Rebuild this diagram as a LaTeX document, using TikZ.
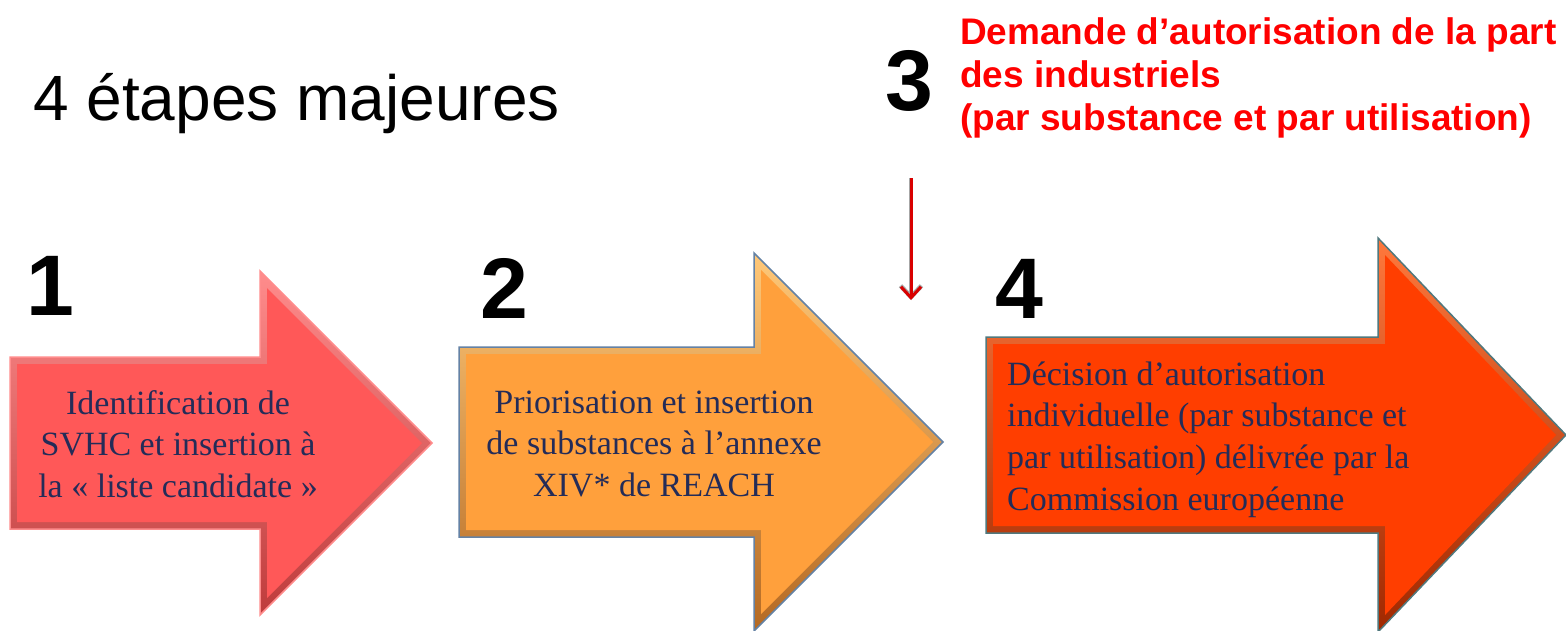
\documentclass[tikz,border=0pt]{standalone}
\usepackage{fontspec}
\setmainfont{Liberation Serif}
\newfontfamily\arialf{Liberation Sans}
\usetikzlibrary{arrows.meta}
\definecolor{navytext}{RGB}{36,44,88}
\definecolor{a1main}{RGB}{255,88,88}
\definecolor{a1light}{RGB}{255,140,140}
\definecolor{a1dark}{RGB}{190,60,60}
\definecolor{a2main}{RGB}{255,160,60}
\definecolor{a2light}{RGB}{255,200,120}
\definecolor{a2dark}{RGB}{180,105,35}
\definecolor{a2line}{RGB}{100,130,165}
\definecolor{a4main}{RGB}{255,62,0}
\definecolor{a4light}{RGB}{255,120,60}
\definecolor{a4dark}{RGB}{160,40,0}
\definecolor{a4line}{RGB}{80,120,125}
\definecolor{strongred}{RGB}{255,0,0}
\newcommand{\stagearrow}[8]{%
  \shade[top color=#7light, bottom color=#7dark, draw=#8, line width=1.5pt, line join=miter]
    (#1,{#4-#5}) -- (#2,{#4-#5}) -- (#2,{#4-#6}) -- (#3,#4) -- (#2,{#4+#6}) -- (#2,{#4+#5}) -- (#1,{#4+#5}) -- cycle;
  \fill[#7main]
    ({#1+7},{#4-#5+7}) -- ({#2+7},{#4-#5+7}) -- ({#2+7},{#4-#6+17}) -- ({#3-10},#4) -- ({#2+7},{#4+#6-17}) -- ({#2+7},{#4+#5-7}) -- ({#1+7},{#4+#5-7}) -- cycle;
}
\tikzset{
  boxtext/.style={inner sep=0pt, text=navytext, font=\fontsize{34}{41.5}\selectfont},
  redtext/.style={inner sep=0pt, text=strongred, align=left, font=\arialf\bfseries\fontsize{37}{43}\selectfont},
  stepnum/.style={inner sep=0pt, anchor=base west, font=\arialf\bfseries\fontsize{86}{90}\selectfont},
  titletext/.style={inner sep=0pt, anchor=base west, font=\arialf\fontsize{64}{70}\selectfont},
  downarrow/.style={strongred!85!black, line width=3pt, -{Straight Barb[length=11pt,width=20pt,line width=3pt]}},
}
\begin{document}
\begin{tikzpicture}[x=1pt,y=-1pt]
\useasboundingbox[fill=white] (0,0) rectangle (1566,630);
% arrows
\stagearrow{10}{260}{432}{443}{86}{172}{a1}{a1light}
\stagearrow{459}{754}{943}{442}{95}{189}{a2}{a2line}
\stagearrow{986}{1378}{1566}{435}{98}{197}{a4}{a4line}
% title
\node[titletext] (title) at (33,120) {4 étapes majeures};
% step numbers
\node[stepnum] (n1) at (26,315) {1};
\node[stepnum] (n2) at (480,318) {2};
\node[stepnum] (n3) at (885,110) {3};
\node[stepnum] (n4) at (995,318) {4};
% red text for step 3
\node[redtext, anchor=north west] (demande) at (960,13.9) {\strut Demande d’autorisation de la part\\des industriels\\(par substance et par utilisation)};
% down arrow
\coordinate (r0) at (911,178);
\coordinate (r1) at (911,300);
\draw[gray!70, line width=4.5pt, -{Straight Barb[length=11pt,width=21pt,line width=4.5pt]}] (r0) -- (r1);
\draw[downarrow] (r0) -- (r1);
% box texts
\node[boxtext, align=center, anchor=north] (t1) at (178,384.95) {\strut Identification de\\SVHC et insertion à\\la «~liste candidate~»};
\node[boxtext, align=center, anchor=north] (t2) at (654,383.95) {\strut Priorisation et insertion\\de substances à l’annexe\\XIV* de REACH};
\node[boxtext, align=left, anchor=north west, font=\fontsize{34}{41.7}\selectfont] (t4) at (1007,355.8) {\strut Décision d’autorisation\\individuelle (par substance et\\par utilisation) délivrée par la\\Commission européenne};
\end{tikzpicture}
\end{document}
